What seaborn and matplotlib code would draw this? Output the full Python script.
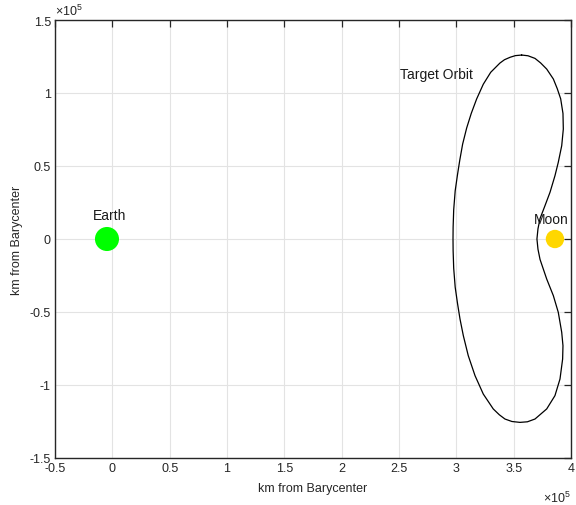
import matplotlib
matplotlib.use("Agg")
import matplotlib.pyplot as plt
import seaborn as sns
import pandas as pd
from matplotlib.ticker import FuncFormatter

# Positions in km from the Earth-Moon barycenter
earth_x, earth_y = -4671.0, 0.0
moon_x, moon_y = 386000.0, 0.0

# Target orbit trace (km), ordered around the closed loop
orbit_x = [
    357000, 351500, 347000, 342000, 338000, 330000, 323500, 317700, 313000,
    309000, 305500, 303000, 301000, 299000, 297700, 297200, 297100, 297200,
    297700, 299000, 301000, 303200, 306100, 310400, 316300, 323500, 332200,
    337500, 342400, 348500, 355500, 362000, 368600, 378800, 386000, 390400,
    392700, 393000, 391900, 388900, 384600, 378800, 373000, 371200, 370300,
    371200, 373000, 377300, 381700, 386000, 388900, 391900, 393300, 393000,
    391000, 388000, 384600, 378800, 373500, 368600, 362500,
]
orbit_y = [
    126000, 125600, 124500, 122800, 120500, 114200, 106000, 95900, 86000,
    76000, 65000, 54000, 44000, 33000, 20000, 8000, 0, -8000,
    -20000, -33000, -44000, -54800, -66200, -79900, -93600, -106200, -116400,
    -120400, -123300, -125000, -125600, -125200, -123300, -116400, -107300, -95900,
    -82200, -73100, -63900, -50200, -38800, -27400, -14000, -7000, 0,
    7000, 14000, 22800, 32000, 43300, 52500, 63900, 75300, 86000,
    96000, 103000, 109600, 116400, 120600, 123700, 125500,
]
orbit_x = orbit_x + orbit_x[:1]
orbit_y = orbit_y + orbit_y[:1]

x_ticks = [-0.5, 0, 0.5, 1, 1.5, 2, 2.5, 3, 3.5, 4]
y_ticks = [-1.5, -1, -0.5, 0, 0.5, 1, 1.5]

sns.set_style("whitegrid")
plt.rcParams["font.family"] = ["Liberation Sans", "DejaVu Sans"]
plt.rcParams["mathtext.fontset"] = "custom"
plt.rcParams["mathtext.rm"] = "Liberation Sans"

fig = plt.figure(figsize=(5.76, 5.06), dpi=100)
ax = fig.add_axes([55 / 576, 1 - 459 / 506, 516 / 576, 438 / 506])

orbit = pd.DataFrame({"x": orbit_x, "y": orbit_y})
sns.lineplot(data=orbit, x="x", y="y", sort=False, estimator=None,
             color="black", linewidth=0.9, ax=ax)
ax.lines[-1].set_solid_joinstyle("round")

bodies = pd.DataFrame({"x": [earth_x, moon_x], "y": [earth_y, moon_y],
                       "name": ["Earth", "Moon"]})
sns.scatterplot(data=bodies, x="x", y="y", hue="name",
                palette={"Earth": "#00ff00", "Moon": "#ffd700"},
                size="name", sizes={"Earth": 300, "Moon": 175},
                linewidth=0, legend=False, ax=ax, zorder=3)

ax.text(earth_x + 2000, 16500, "Earth", ha="center", va="center",
        fontsize=10, color="#1a1a1a")
ax.text(moon_x - 3000, 13500, "Moon", ha="center", va="center",
        fontsize=10, color="#1a1a1a")
ax.text(283000, 113000, "Target Orbit", ha="center", va="center",
        fontsize=10, color="#1a1a1a")

ax.set_xlim(-0.5e5, 4.0e5)
ax.set_ylim(-1.5e5, 1.5e5)
ax.set_xticks([t * 1e5 for t in x_ticks])
ax.set_yticks([t * 1e5 for t in y_ticks])
fmt = FuncFormatter(lambda v, _: f"{v / 1e5:g}")
ax.xaxis.set_major_formatter(fmt)
ax.yaxis.set_major_formatter(fmt)

ax.set_xlabel("km from Barycenter", fontsize=9, color="#262626", labelpad=6)
ax.set_ylabel("km from Barycenter", fontsize=9, color="#262626", labelpad=5)

ax.grid(True, color="#e3e3e3", linewidth=0.8)
ax.set_axisbelow(True)
for side in ax.spines.values():
    side.set_color("#262626")
    side.set_linewidth(1.0)
    side.set_visible(True)
ax.tick_params(axis="both", which="major", direction="in", length=5,
               width=0.9, color="#262626", labelsize=9, labelcolor="#262626",
               top=True, right=True, pad=3)

# Axis exponent labels
ax.text(0.0, 1.005, r"$\times\mathregular{10^{5}}$", transform=ax.transAxes,
        ha="left", va="bottom", fontsize=9, color="#262626")
ax.text(1.0, -0.072, r"$\times\mathregular{10^{5}}$", transform=ax.transAxes,
        ha="right", va="top", fontsize=9, color="#262626")

fig.savefig("out.png", dpi=100, facecolor="white")
